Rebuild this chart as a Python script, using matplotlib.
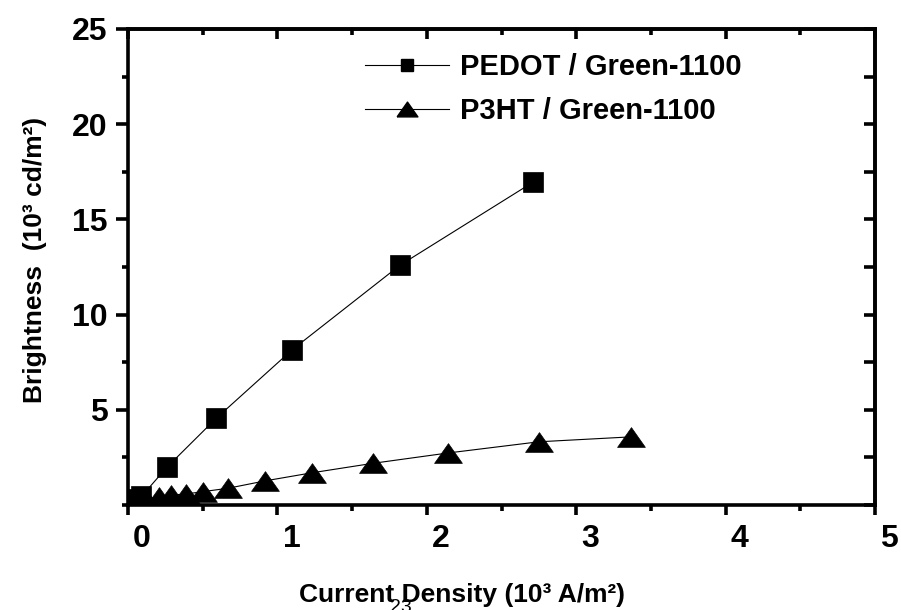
import matplotlib
matplotlib.use("Agg")
import matplotlib.pyplot as plt
import matplotlib.transforms as mtransforms
from matplotlib.lines import Line2D
from matplotlib.ticker import MultipleLocator

plt.rcParams["font.family"] = ["Liberation Sans", "DejaVu Sans"]
plt.rcParams["font.weight"] = "bold"

# PEDOT / Green-1100 (squares)
pedot_x = [0.02, 0.05, 0.09, 0.26, 0.59, 1.10, 1.82, 2.71]
pedot_y = [0.15, 0.30, 0.45, 1.98, 4.55, 8.16, 12.59, 16.95]

# P3HT / Green-1100 (triangles)
p3ht_x = [0.05, 0.12, 0.21, 0.29, 0.39, 0.50, 0.67, 0.92, 1.23, 1.64, 2.14, 2.75, 3.37]
p3ht_y = [0.15, 0.30, 0.44, 0.52, 0.58, 0.70, 0.88, 1.27, 1.69, 2.19, 2.73, 3.32, 3.58]

labels = ["PEDOT / Green-1100", "P3HT / Green-1100"]
x_ticks = [0, 1, 2, 3, 4, 5]
y_ticks = [5, 10, 15, 20, 25]

# wide, flat triangle like the original
tri = [(-1, -0.71), (1, -0.71), (0, 0.71), (-1, -0.71)]

fig = plt.figure(figsize=(9.01, 6.10), dpi=100)
ax = fig.add_axes([128 / 901, 1 - 505 / 610, 747 / 901, 476 / 610])

ax.plot(pedot_x, pedot_y, color="black", lw=0.8, marker="s", ms=14.5,
        mfc="black", mec="black", mew=0.5)
ax.plot(p3ht_x, p3ht_y, color="black", lw=0.8, marker=tri, ms=20,
        mfc="black", mec="black", mew=0.5)

ax.set_xlim(0, 5)
ax.set_ylim(0, 25)
ax.set_xticks(x_ticks)
ax.set_yticks(y_ticks)
ax.xaxis.set_minor_locator(MultipleLocator(0.5))
ax.yaxis.set_minor_locator(MultipleLocator(2.5))

for s in ax.spines.values():
    s.set_linewidth(2.6)
ax.tick_params(which="major", direction="out", length=7.5, width=2.6,
               labelsize=23, pad=6)
ax.tick_params(which="minor", direction="out", length=4.5, width=2.6)
ax.tick_params(axis="y", which="major", length=8.5, pad=6)

# x tick labels sit a bit right of their ticks in the original
shift = mtransforms.ScaledTranslation(0.14, 0, fig.dpi_scale_trans)
for lab in ax.get_xticklabels():
    lab.set_transform(lab.get_transform() + shift)

# mirrored ticks pointing inward on top and right
top = ax.secondary_xaxis("top")
top.set_xticks(x_ticks)
top.xaxis.set_minor_locator(MultipleLocator(0.5))
top.tick_params(which="major", direction="in", length=7.5, width=2.6, labeltop=False)
top.tick_params(which="minor", direction="in", length=4.5, width=2.6)
top.spines["top"].set_linewidth(2.6)

right = ax.secondary_yaxis("right")
right.set_yticks(y_ticks)
right.yaxis.set_minor_locator(MultipleLocator(2.5))
right.tick_params(which="major", direction="in", length=8, width=2.6, labelright=False)
right.tick_params(which="minor", direction="in", length=8, width=2.6)
right.spines["right"].set_linewidth(2.6)

ax.set_xlabel("Current Density (10³ A/m²)", fontsize=19, fontweight="bold",
              va="baseline")
ax.xaxis.set_label_coords(0.447, -0.204)
ax.set_ylabel("Brightness  (10³ cd/m²)", fontsize=19, fontweight="bold",
              va="baseline")
ax.yaxis.set_label_coords(-0.115, 0.515)

handles = [
    Line2D([], [], color="black", lw=0.8, marker="s", ms=8),
    Line2D([], [], color="black", lw=0.8, marker=tri, ms=15),
]
ax.legend(handles, labels, loc="upper left", bbox_to_anchor=(0.317, 0.95),
          frameon=False, fontsize=21, handlelength=2.9, handletextpad=0.35,
          labelspacing=0.55, borderpad=0, borderaxespad=0)

fig.text(401 / 901, 1 - 599 / 610, "23", ha="center", va="top",
         fontsize=14, fontweight="normal")

fig.savefig("out.png", dpi=100)
